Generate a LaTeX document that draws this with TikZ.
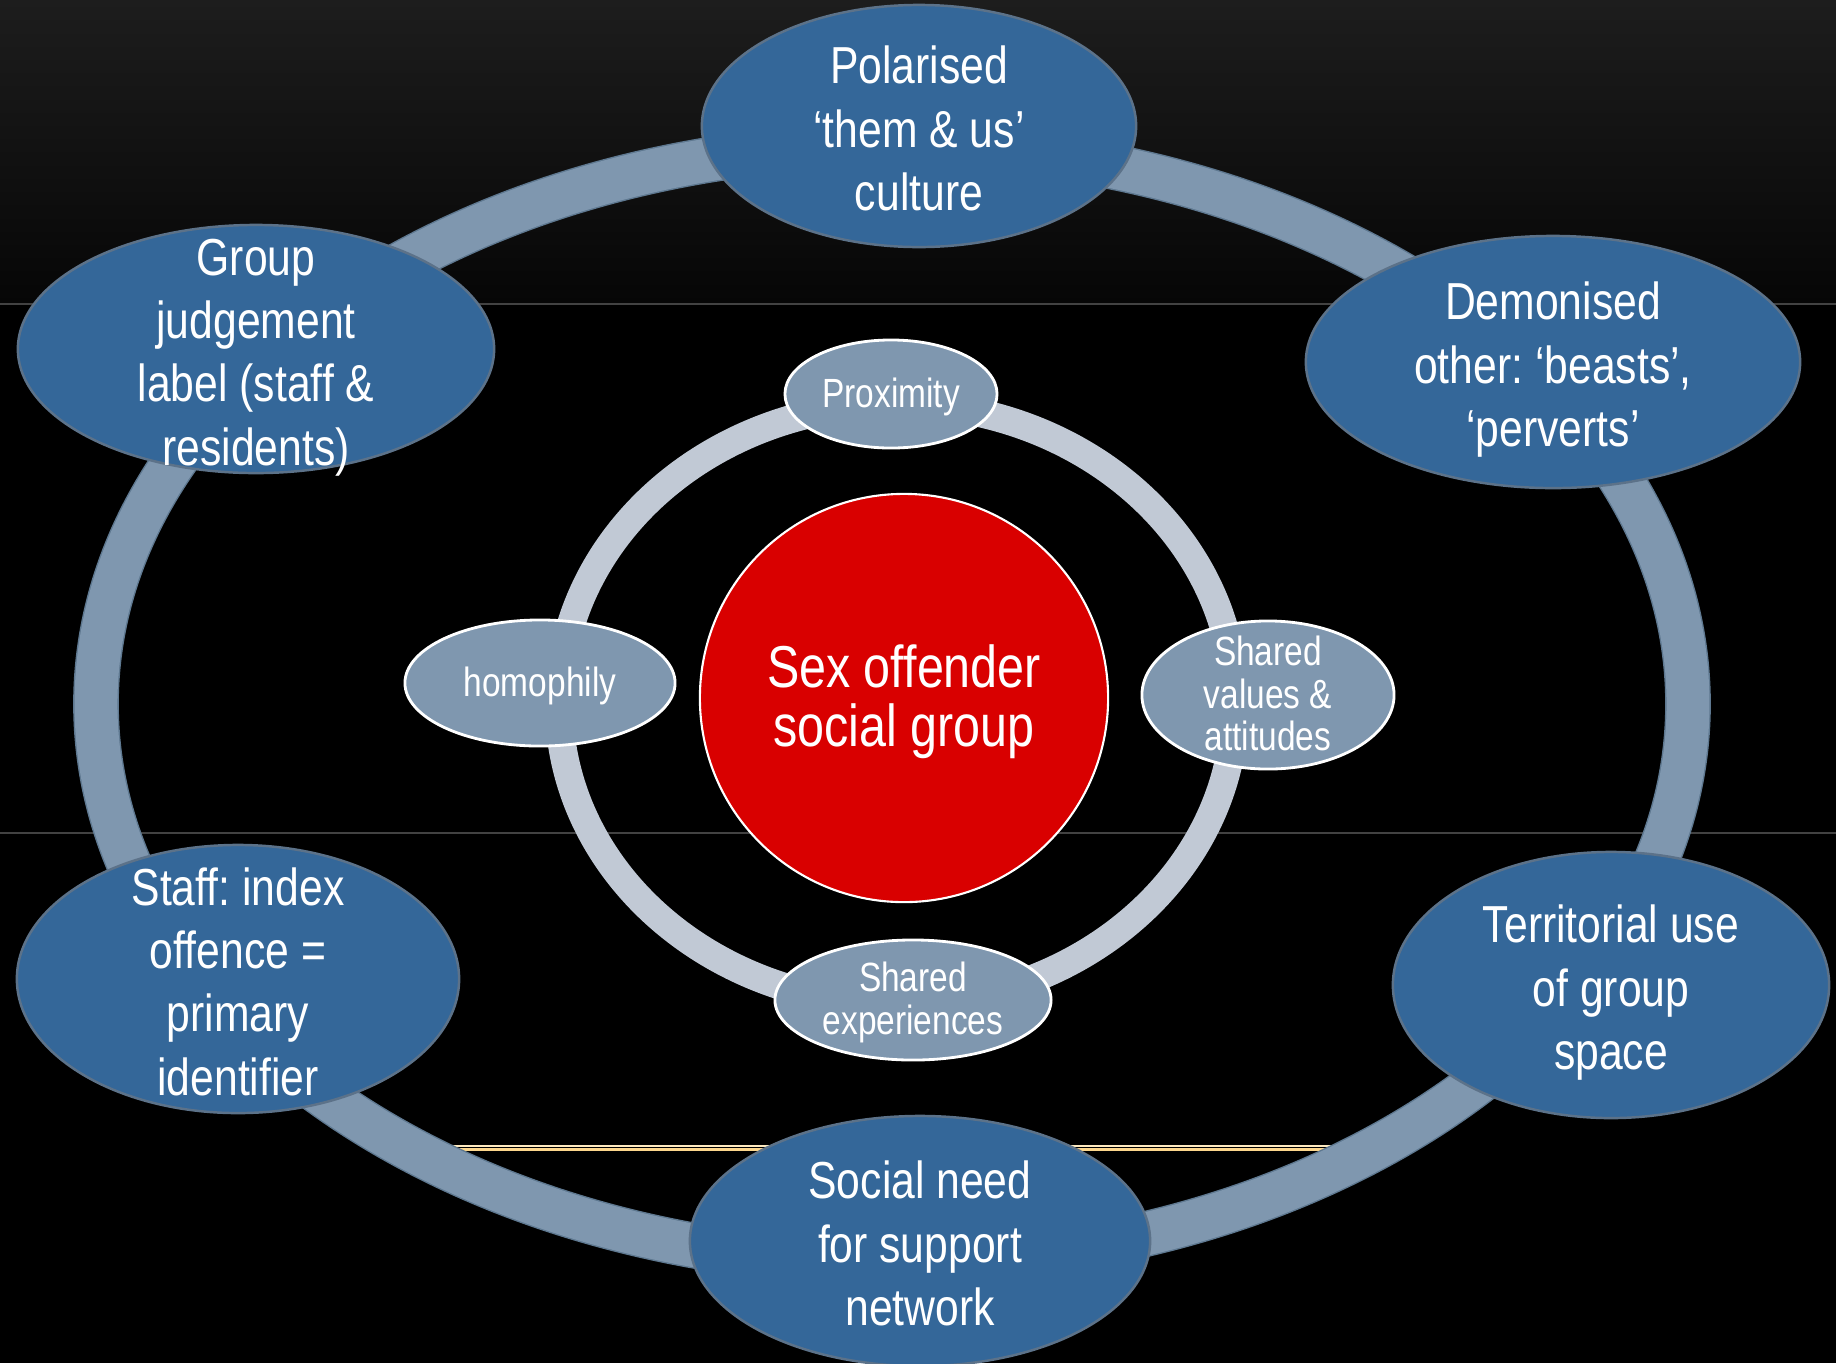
\documentclass[tikz,border=0pt]{standalone}
\usepackage{fontspec}
\setsansfont{Liberation Sans}[FakeStretch=0.82]
\frenchspacing
\usetikzlibrary{shapes.geometric}
\definecolor{sgBlue}{RGB}{52,103,153}
\definecolor{sgEdge}{RGB}{92,114,137}
\definecolor{sgSteel}{RGB}{127,151,175}
\definecolor{sgRingEdge}{RGB}{94,120,144}
\definecolor{sgPale}{RGB}{193,201,213}
\definecolor{sgRed}{RGB}{217,0,0}
\definecolor{sgTop}{RGB}{29,29,29}
\definecolor{sgLow}{RGB}{6,6,6}
\definecolor{sgRule}{RGB}{66,66,66}
\definecolor{sgGold}{RGB}{252,214,140}
\definecolor{sgCream}{RGB}{254,234,192}
\tikzset{
    base/.style={font=\sffamily, align=flush center, text=white, inner sep=0pt},
    theme/.style={base, ellipse, draw=sgEdge, line width=0.7pt, fill=sgBlue,
                  inner sep=-1cm, text width=3.2cm,
                  font=\sffamily\fontsize{14.8}{18}\selectfont,
                  execute at begin node=\rule{0pt}{15.2pt},
                  execute at end node=\rule[-3.2pt]{0pt}{3.2pt}},
    facet/.style={base, ellipse, draw=white, line width=0.8pt, fill=sgSteel,
                  inner sep=-0.5cm, text width=2.4cm,
                  font=\sffamily\fontsize{11.6}{12.2}\selectfont,
                  execute at begin node=\rule{0pt}{9.9pt},
                  execute at end node=\rule[-2.5pt]{0pt}{2.5pt}},
    core/.style={base, circle, draw=white, line width=0.6pt, fill=sgRed,
                 minimum size=4.08cm, text width=3.6cm,
                 font=\sffamily\fontsize{16.8}{16.7}\selectfont,
                 execute at begin node=\rule{0pt}{14.3pt}},
    ring/.style={line width=12.2pt, color=sgSteel},
    ringedge/.style={line width=13pt, color=sgRingEdge},
    innerring/.style={line width=8pt, color=sgPale},
    rule/.style={line width=0.5pt, color=sgRule}
}

\begin{document}
\begin{tikzpicture}[x=0.01cm, y=-0.01cm]
    \useasboundingbox (0,0) rectangle (1836,1363);

    % Backdrop
    \fill[black] (0,0) rectangle (1836,1363);
    \shade[top color=sgTop, bottom color=sgLow] (0,0) rectangle (1836,304);
    \draw[rule] (0,304) -- (1836,304);
    \draw[rule] (0,833) -- (1836,833);
    \draw[sgCream, line width=0.7pt] (443,1146) -- (1340,1146);
    \draw[sgGold, line width=1pt] (443,1149.5) -- (1340,1149.5);

    % Outer cycle
    \draw[ringedge] (892,704) ellipse (796 and 559);
    \draw[ring] (892,704) ellipse (796 and 559);

    % Inner cycle
    \draw[innerring] (897,704) ellipse (338 and 300);

    % Centre
    \node[core] (core) at (904,698) {Sex offender\\social group};

    % Outer themes
    \node[theme, minimum width=4.34cm, minimum height=2.42cm] (polar) at (919,126)
        {Polarised\\‘them \& us’\\culture};
    \node[theme, minimum width=4.76cm, minimum height=2.48cm] (judge) at (256,349)
        {Group\\judgement\\label (staff \&\\residents)};
    \node[theme, minimum width=4.94cm, minimum height=2.52cm] (demon) at (1553,362)
        {Demonised\\other: ‘beasts’,\\‘perverts’};
    \node[theme, minimum width=4.42cm, minimum height=2.68cm] (staff) at (238,979)
        {Staff: index\\offence =\\primary\\identifier};
    \node[theme, minimum width=4.36cm, minimum height=2.66cm] (terri) at (1611,985)
        {Territorial use\\of group\\space};
    \node[theme, minimum width=4.60cm, minimum height=2.50cm] (social) at (920,1241)
        {Social need\\for support\\network};

    % Inner facets
    \node[facet, minimum width=2.12cm, minimum height=1.08cm] (prox) at (891,394) {Proximity};
    \node[facet, minimum width=2.70cm, minimum height=1.26cm] (homo) at (540,683) {homophily};
    \node[facet, minimum width=2.52cm, minimum height=1.48cm] (values) at (1268,695)
        {Shared\\values \&\\attitudes};
    \node[facet, minimum width=2.76cm, minimum height=1.20cm] (exper) at (913,1000)
        {Shared\\experiences};
\end{tikzpicture}
\end{document}
